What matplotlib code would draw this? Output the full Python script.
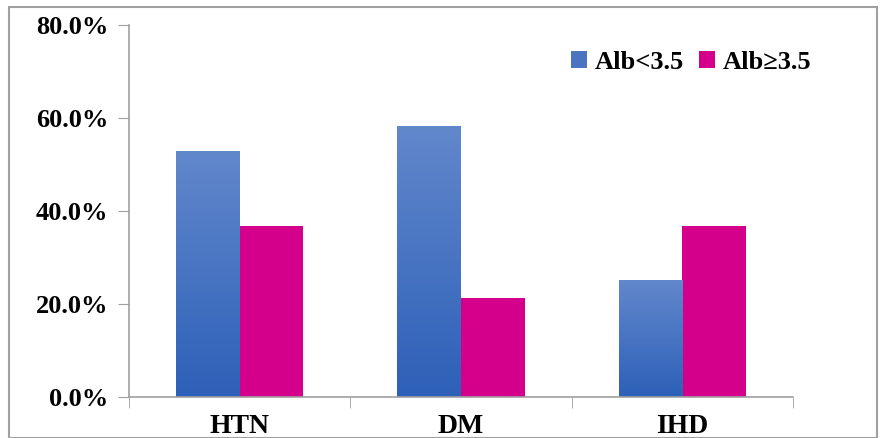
import matplotlib
matplotlib.use("Agg")
import matplotlib.pyplot as plt
import numpy as np
from matplotlib.patches import Rectangle
from matplotlib.colors import LinearSegmentedColormap
from matplotlib.ticker import FuncFormatter

categories = ["HTN", "DM", "IHD"]
series_names = ["Alb<3.5", "Alb\u22653.5"]
alb_low = [52.9, 58.3, 25.2]
alb_high = [36.8, 21.3, 36.8]
yticks = [0, 20, 40, 60, 80]

plt.rcParams['font.family'] = ['Liberation Serif', 'DejaVu Serif']
plt.rcParams['font.weight'] = 'bold'

fig = plt.figure(figsize=(8.83, 4.38), dpi=100)
ax = fig.add_axes([129/883, 1-397/438, (793-129)/883, (397-25)/438])

x = np.arange(len(categories))
w = 0.287
pink = "#D4008C"
blue_top = "#6288CC"
blue_bot = "#2D60B8"
cmap = LinearSegmentedColormap.from_list("bg", [blue_bot, blue_top])

b1 = ax.bar(x - w/2, alb_low, w, color="#4A74C2", label=series_names[0], zorder=2)
b2 = ax.bar(x + w/2, alb_high, w, color=pink, label=series_names[1], zorder=2)

grad = np.linspace(0, 1, 256).reshape(-1, 1)
for bar in b1:
    bx, by = bar.get_x(), bar.get_y()
    bw, bh = bar.get_width(), bar.get_height()
    im = ax.imshow(grad, cmap=cmap, aspect='auto', origin='lower',
                   extent=[bx, bx + bw, by, by + bh], zorder=2.5)
    im.set_clip_path(bar)

ax.set_xlim(-0.5, 2.5)
ax.set_ylim(0, 80)
ax.set_yticks(yticks)
ax.yaxis.set_major_formatter(FuncFormatter(lambda v, p: f"{v:.1f}%"))
ax.set_xticks(x)
ax.set_xticklabels(categories)
ax.set_xticks([-0.5, 0.5, 1.5, 2.5], minor=True)
ax.tick_params(axis='x', which='major', length=0, pad=12, labelsize=20)
ax.tick_params(axis='x', which='minor', length=8, color="#A0A0A0", direction='out')
ax.tick_params(axis='y', length=8, color="#A0A0A0", labelsize=19, pad=7)
for lab in ax.get_xticklabels() + ax.get_yticklabels():
    lab.set_fontweight('bold')

for s in ["top", "right"]:
    ax.spines[s].set_visible(False)
for s in ["left", "bottom"]:
    ax.spines[s].set_color("#A0A0A0")
    ax.spines[s].set_linewidth(1.2)

leg = ax.legend(loc='upper right', bbox_to_anchor=(1.063, 0.995), ncol=2, frameon=False,
                prop={'family': ['Liberation Serif', 'DejaVu Serif'], 'weight': 'bold', 'size': 19},
                handlelength=0.6, handleheight=0.6, handletextpad=0.3, columnspacing=0.55)

fig.patches.append(Rectangle((9/883, 0), 868/883, 1 - 7/438, transform=fig.transFigure,
                             fill=False, edgecolor="#A0A0A0", linewidth=1.5))

fig.savefig("out.png", dpi=100)
